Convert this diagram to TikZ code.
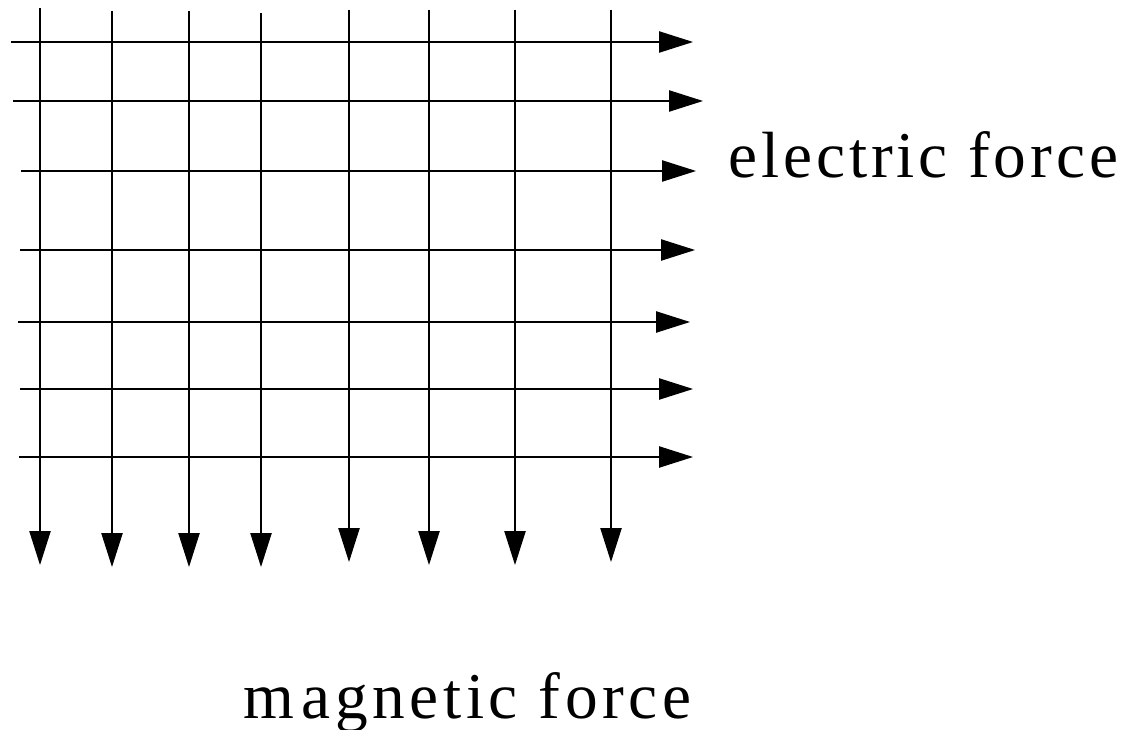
\documentclass[tikz,border=0pt]{standalone}
\usepackage{fontspec}
\usepackage{tikz}
\usetikzlibrary{arrows.meta}
\newfontfamily\forcefont[LetterSpace=6]{Liberation Serif}
\newfontfamily\forcefontwide[LetterSpace=7]{Liberation Serif}

\begin{document}
\begin{tikzpicture}[x=0.75pt,y=-0.75pt,
  fieldline/.style={line width=0.9pt,-{Triangle[length=25.5pt,width=16pt]}},
  forcelabel/.style={anchor=base west,inner sep=0pt,font=\fontsize{49}{54}\selectfont}]
\useasboundingbox (0,0) rectangle (1123,730);
% electric field lines
\coordinate (e1) at (11,42);  \coordinate (E1) at (693,42);
\coordinate (e2) at (13,101); \coordinate (E2) at (703,101);
\coordinate (e3) at (21,171); \coordinate (E3) at (696,171);
\coordinate (e4) at (20,250); \coordinate (E4) at (695,250);
\coordinate (e5) at (18,322); \coordinate (E5) at (690,322);
\coordinate (e6) at (20,389); \coordinate (E6) at (693,389);
\coordinate (e7) at (19,457); \coordinate (E7) at (693,457);
\draw[fieldline] (e1) -- (E1);
\draw[fieldline] (e2) -- (E2);
\draw[fieldline] (e3) -- (E3);
\draw[fieldline] (e4) -- (E4);
\draw[fieldline] (e5) -- (E5);
\draw[fieldline] (e6) -- (E6);
\draw[fieldline] (e7) -- (E7);
% magnetic field lines
\coordinate (m1) at (40,8);   \coordinate (M1) at (40,565);
\coordinate (m2) at (112,11); \coordinate (M2) at (112,567);
\coordinate (m3) at (189,11); \coordinate (M3) at (189,567);
\coordinate (m4) at (261,13); \coordinate (M4) at (261,567);
\coordinate (m5) at (349,10); \coordinate (M5) at (349,562);
\coordinate (m6) at (429,10); \coordinate (M6) at (429,565);
\coordinate (m7) at (515,10); \coordinate (M7) at (515,565);
\coordinate (m8) at (611,10); \coordinate (M8) at (611,562);
\draw[fieldline] (m1) -- (M1);
\draw[fieldline] (m2) -- (M2);
\draw[fieldline] (m3) -- (M3);
\draw[fieldline] (m4) -- (M4);
\draw[fieldline] (m5) -- (M5);
\draw[fieldline] (m6) -- (M6);
\draw[fieldline] (m7) -- (M7);
\draw[fieldline] (m8) -- (M8);
% labels
\node[forcelabel] (electric) at (728,178) {\forcefont electric force};
\node[forcelabel] (magnetic) at (243,718) {\forcefontwide m\kern0.12em agnetic force};
\end{tikzpicture}
\end{document}
